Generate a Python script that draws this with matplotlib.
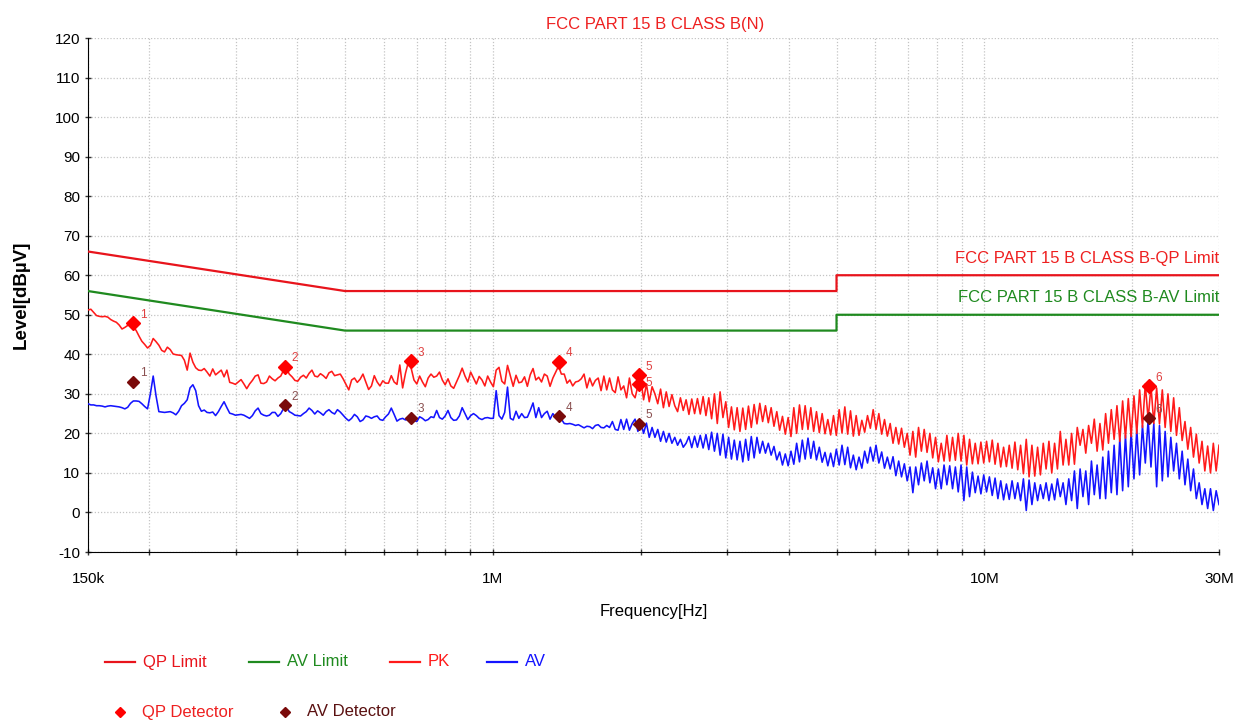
import numpy as np
import matplotlib
matplotlib.use("Agg")
import matplotlib.pyplot as plt
from matplotlib.lines import Line2D
from matplotlib.ticker import FixedLocator, FixedFormatter, NullFormatter

plt.rcParams['font.family'] = ['Liberation Sans', 'DejaVu Sans']
plt.rcParams['axes.unicode_minus'] = False

TITLE = "FCC PART 15 B CLASS B(N)"
F_START, F_STOP = 150e3, 30e6

# Limit lines (frequency Hz, level dBuV)
LIMIT_F = [150e3, 500e3, 5e6, 5e6, 30e6]
QP_LIMIT = [66, 56, 56, 60, 60]
AV_LIMIT = [56, 46, 46, 50, 50]

# Peak trace levels (dBuV), sweep points log-spaced from 150 kHz to 30 MHz
PK_LEVEL = [
    51.2, 51.4, 50.6, 49.8, 49.6, 49.5, 49.6, 49.4, 48.8, 48.4,
    48.1, 47.4, 46.4, 46.8, 47.3, 47.8, 47.0, 46.0, 44.6, 43.3,
    42.5, 41.6, 42.2, 44.0, 43.2, 42.3, 41.0, 40.6, 41.8, 41.2,
    40.1, 39.9, 39.8, 39.7, 38.5, 36.0, 40.3, 38.0, 36.6, 36.0,
    35.9, 36.4, 35.5, 34.5, 36.3, 34.8, 35.4, 36.0, 34.3, 36.0,
    32.9, 32.7, 32.4, 33.0, 33.6, 32.5, 31.3, 32.5, 33.4, 34.5,
    34.8, 32.7, 32.6, 33.0, 34.5, 33.8, 33.3, 34.0, 34.5, 36.0,
    36.5, 35.0, 34.3, 33.4, 33.2, 34.2, 34.7, 34.0, 35.2, 36.0,
    34.5, 34.3, 35.1, 34.6, 33.9, 35.3, 35.7, 34.6, 34.8, 35.0,
    33.8, 32.4, 31.0, 33.5, 34.0, 32.9, 33.7, 35.0, 33.0, 31.1,
    32.0, 34.6, 33.0, 32.0, 33.3, 32.7, 32.7, 34.6, 33.0, 32.4,
    37.3, 31.5, 35.2, 38.0, 36.5, 33.5, 32.5, 34.5, 33.0, 31.8,
    34.0, 35.0, 34.2, 34.5, 35.5, 33.5, 32.3, 33.8, 32.0, 31.4,
    33.0, 34.6, 36.5, 34.5, 33.0, 35.5, 34.0, 32.5, 34.4, 33.5,
    32.0, 34.5, 33.0, 31.8, 36.0, 36.7, 33.2, 32.5, 37.2, 34.5,
    31.9, 34.7, 32.8, 33.0, 34.3, 31.9, 34.8, 36.4, 33.5, 34.2,
    33.0, 35.0, 34.5, 31.9, 34.0, 35.5, 37.0, 35.0, 35.0, 32.7,
    33.5, 32.0, 33.0, 33.2, 33.8, 35.0, 31.5, 34.0, 32.0, 33.4,
    34.0, 30.8, 34.5, 31.0, 34.0, 31.0, 30.3, 34.3, 31.0, 32.0,
    29.0, 34.0, 30.0, 29.0, 32.0, 34.0, 28.5, 32.5, 28.0, 31.8,
    30.0, 27.5, 31.2, 26.5, 30.5, 26.8, 29.8, 27.0, 25.5, 29.0,
    25.8, 28.5, 24.8, 28.7, 25.0, 28.8, 24.9, 29.3, 24.5, 29.0,
    23.7, 30.0, 22.5, 30.5, 24.0, 28.0, 21.5, 26.7, 20.9, 26.5,
    20.5, 26.4, 21.0, 26.9, 21.5, 27.3, 22.4, 27.6, 23.0, 27.0,
    22.7, 26.5, 21.8, 25.5, 20.8, 24.3, 19.8, 24.0, 19.2, 26.5,
    20.0, 27.2, 21.0, 27.0, 21.0, 26.5, 20.5, 25.5, 20.2, 25.0,
    19.9, 23.5, 19.6, 24.5, 19.5, 26.0, 20.1, 26.7, 19.8, 25.7,
    19.3, 24.5, 19.5, 23.3, 20.3, 24.5, 21.3, 26.0, 21.0, 25.0,
    19.8, 23.5, 19.3, 22.5, 17.5, 21.5, 17.3, 21.3, 16.5, 20.0,
    14.5, 20.5, 14.0, 21.5, 15.5, 21.0, 15.2, 20.0, 13.8, 19.0,
    12.8, 17.5, 13.0, 19.5, 13.0, 19.0, 13.2, 20.0, 13.0, 19.5,
    12.0, 18.5, 12.3, 17.5, 12.3, 17.8, 12.5, 18.0, 12.8, 18.3,
    12.2, 17.5, 11.5, 16.5, 11.6, 17.0, 11.2, 17.8, 10.8, 17.0,
    9.8, 18.5, 9.0, 17.0, 9.2, 16.5, 9.5, 17.5, 11.0, 18.0,
    10.0, 17.5, 11.0, 20.5, 12.0, 18.5, 12.0, 20.0, 12.2, 21.5,
    17.0, 21.0, 15.0, 22.0, 17.5, 23.6, 15.5, 22.5, 15.8, 25.0,
    17.5, 26.0, 18.5, 27.0, 18.0, 28.2, 18.8, 28.8, 19.2, 29.5,
    20.0, 31.0, 21.5, 32.5, 23.5, 32.0, 22.5, 31.5, 22.4, 31.0,
    21.5, 30.0, 20.5, 29.0, 19.5, 26.5, 18.2, 23.0, 16.0, 21.5,
    14.0, 19.8, 12.5, 18.0, 10.5, 16.8, 10.0, 17.5, 10.5, 17.0,
]

# Average trace levels (dBuV), same sweep
AV_LEVEL = [
    27.5, 27.2, 27.2, 27.0, 27.0, 26.9, 26.7, 26.9, 27.0, 26.9,
    26.8, 26.7, 26.5, 26.2, 26.6, 27.6, 28.2, 28.2, 28.1, 27.5,
    26.8, 26.2, 30.0, 34.5, 29.5, 25.5, 25.4, 25.3, 25.4, 25.5,
    25.2, 24.7, 25.6, 27.0, 27.6, 28.5, 31.5, 32.3, 30.8, 27.0,
    25.6, 25.9, 25.3, 25.2, 25.4, 24.5, 25.5, 26.8, 28.0, 26.5,
    25.1, 24.9, 24.6, 24.7, 24.8, 24.6, 24.2, 23.8, 24.5, 25.7,
    26.4, 25.0, 24.6, 24.4, 24.6, 25.3, 25.3, 24.3, 25.0, 26.3,
    26.8, 25.5, 25.1, 24.6, 24.5, 24.4, 25.0, 25.5, 26.4, 25.8,
    24.9, 25.7, 25.2, 24.6, 25.5, 26.0, 25.3, 24.9, 26.0, 25.4,
    24.6, 23.8, 23.2, 23.8, 24.8, 24.2, 23.0, 23.4, 24.4, 24.2,
    23.8, 24.2, 24.4, 23.5, 23.3, 24.2, 24.9, 26.4, 24.8, 23.1,
    23.6, 23.8, 23.4, 23.6, 23.5, 23.3, 23.0, 24.2, 23.8, 23.2,
    23.5, 24.2, 24.0, 25.8, 24.0, 23.6, 24.4, 25.8, 24.0, 23.3,
    23.4, 24.4, 26.5, 25.0, 23.5, 24.5, 25.0, 24.5, 23.8, 23.5,
    23.9, 24.0, 23.8, 23.8, 30.8, 24.5, 23.6, 25.3, 31.7, 23.8,
    23.4, 25.6, 23.8, 25.0, 24.0, 24.1, 25.8, 27.7, 24.0, 26.5,
    24.0, 25.0, 25.6, 23.6, 25.0, 24.0, 24.0, 23.6, 22.5, 22.4,
    22.5, 22.3, 22.0, 22.2, 21.8, 21.4, 21.8, 21.7, 21.2, 22.0,
    22.2, 21.5, 21.4, 22.0, 21.5, 23.0, 21.0, 20.8, 23.5, 21.0,
    23.6, 20.8, 22.5, 23.6, 20.5, 23.0, 20.0, 22.6, 19.0, 21.5,
    19.0, 21.0, 18.0, 20.5, 17.8, 20.0, 17.5, 19.0, 17.0, 18.5,
    16.5, 17.5, 19.2, 16.4, 19.3, 16.5, 19.5, 16.3, 19.7, 15.9,
    20.3, 15.5, 20.0, 14.5, 19.8, 13.8, 19.0, 13.5, 18.3, 13.3,
    18.0, 12.8, 18.5, 13.2, 19.2, 13.8, 19.0, 15.0, 18.0, 15.0,
    17.5, 14.5, 16.7, 13.3, 15.3, 12.0, 14.8, 11.8, 15.5, 12.2,
    17.5, 12.8, 18.3, 13.5, 18.8, 13.7, 18.0, 13.3, 16.5, 12.7,
    15.2, 11.8, 15.0, 11.6, 16.0, 12.0, 17.0, 12.1, 16.5, 11.3,
    14.5, 10.8, 14.0, 11.2, 15.5, 12.5, 16.5, 13.0, 17.0, 12.5,
    15.3, 11.2, 14.0, 11.0, 14.1, 9.3, 13.0, 9.0, 12.3, 8.0,
    11.5, 5.0, 11.5, 7.0, 12.5, 8.0, 13.0, 7.5, 11.3, 6.0,
    11.0, 6.0, 12.0, 7.0, 11.8, 6.0, 11.5, 5.2, 12.0, 3.0,
    11.5, 4.0, 10.2, 5.0, 9.2, 4.7, 9.5, 5.2, 9.0, 4.3,
    8.7, 3.5, 8.0, 3.2, 7.2, 3.3, 8.0, 3.5, 7.5, 3.0,
    8.5, 0.5, 8.2, 2.0, 7.5, 3.0, 7.0, 3.5, 7.5, 3.0,
    7.2, 3.2, 8.5, 4.0, 7.5, 2.0, 8.5, 3.0, 10.5, 1.0,
    11.0, 4.0, 10.5, 2.0, 13.0, 4.5, 12.0, 3.5, 14.0, 3.5,
    15.5, 5.0, 17.0, 4.5, 18.7, 5.5, 19.5, 6.5, 20.5, 8.5,
    21.0, 9.5, 22.0, 12.5, 23.5, 11.5, 22.5, 6.5, 22.0, 8.0,
    20.5, 9.0, 19.0, 10.5, 17.5, 8.5, 15.5, 7.0, 13.5, 5.5,
    11.0, 3.5, 7.5, 2.0, 6.0, 1.0, 6.0, 0.5, 5.5, 2.0,
]

# Final measurement points
QP_F = [185e3, 377e3, 680e3, 1.362e6, 1.98e6, 1.98e6, 21.6e6]
QP_L = [47.8, 36.8, 38.2, 38.1, 34.7, 32.6, 31.9]
QP_ID = ["1", "2", "3", "4", "5", "5", "6"]
AVD_F = [185e3, 377e3, 680e3, 1.362e6, 1.98e6, 21.6e6]
AVD_L = [33.0, 27.1, 23.9, 24.3, 22.5, 23.8]
AVD_ID = ["1", "2", "3", "4", "5", "6"]

X_MAJOR = [150e3, 1e6, 10e6, 30e6]
X_MAJOR_LABELS = ["150k", "1M", "10M", "30M"]
X_MINOR = [200e3, 300e3, 400e3, 500e3, 600e3, 700e3, 800e3, 900e3,
           2e6, 3e6, 4e6, 5e6, 6e6, 7e6, 8e6, 9e6, 20e6]
Y_TICKS = list(range(-10, 121, 10))

RED = "#ff1a1a"
LIM_RED = "#e8141c"
GREEN = "#1f8a1f"
BLUE = "#1414ff"
DARKRED = "#7a0a0a"

W, H = 1239, 720
fig = plt.figure(figsize=(W / 100, H / 100), dpi=100)
ax = fig.add_axes([88 / W, 1 - 552 / H, (1219 - 88) / W, (552 - 38) / H])

pk_f = np.geomspace(F_START, F_STOP, len(PK_LEVEL))
av_f = np.geomspace(F_START, F_STOP, len(AV_LEVEL))

ax.plot(LIMIT_F, QP_LIMIT, color=LIM_RED, lw=1.6, zorder=3)
ax.plot(LIMIT_F, AV_LIMIT, color=GREEN, lw=1.6, zorder=3)
ax.plot(av_f, AV_LEVEL, color=BLUE, lw=1.15, zorder=4)
ax.plot(pk_f, PK_LEVEL, color=RED, lw=1.15, zorder=5)

ax.plot(QP_F, QP_L, linestyle="none", marker="D", ms=7, color="#ff0000", zorder=7)
ax.plot(AVD_F, AVD_L, linestyle="none", marker="D", ms=6.5, color=DARKRED, zorder=7)
prev = None
for f, l, s in zip(QP_F, QP_L, QP_ID):
    dy = -2 if s == prev else 4
    ax.annotate(s, (f, l), xytext=(5, dy), textcoords="offset points",
                fontsize=8.5, color="#e04040", zorder=8)
    prev = s
for f, l, s in zip(AVD_F, AVD_L, AVD_ID):
    ax.annotate(s, (f, l), xytext=(5, 4), textcoords="offset points",
                fontsize=8.5, color="#8a5050", zorder=8)

ax.set_xscale("log")
ax.set_xlim(F_START, F_STOP)
ax.set_ylim(-10, 120)
ax.xaxis.set_major_locator(FixedLocator(X_MAJOR))
ax.xaxis.set_major_formatter(FixedFormatter(X_MAJOR_LABELS))
ax.xaxis.set_minor_locator(FixedLocator(X_MINOR))
ax.xaxis.set_minor_formatter(NullFormatter())
ax.set_yticks(Y_TICKS)

ax.grid(True, which="both", axis="x", color="#c4c4c4", ls=(0, (1, 1.5)), lw=0.9)
ax.grid(True, which="major", axis="y", color="#c4c4c4", ls=(0, (1, 1.5)), lw=0.9)
for side in ("top", "right"):
    ax.spines[side].set_visible(False)
ax.spines["left"].set_color("black")
ax.spines["bottom"].set_color("black")
ax.tick_params(axis="both", which="both", direction="inout", length=5, width=1,
               color="#333333", labelsize=11)
ax.tick_params(axis="x", which="major", pad=12)
ax.tick_params(axis="y", pad=3)

ax.set_xlabel("Frequency[Hz]", fontsize=12, labelpad=13)
ax.set_ylabel("Level[dBµV]", fontsize=13.5, fontweight="bold", labelpad=18)

fig.text(655 / W, 1 - 24 / H, TITLE, color="#ee2020", fontsize=12,
         ha="center", va="center")
fig.text(1219 / W, 1 - 258 / H, "FCC PART 15 B CLASS B-QP Limit", color="#ee2020",
         fontsize=12, ha="right", va="center")
fig.text(1219 / W, 1 - 298 / H, "FCC PART 15 B CLASS B-AV Limit", color=GREEN,
         fontsize=12, ha="right", va="center")

# Legend (figure-pixel placement)
def px(x, y):
    return x / W, 1 - y / H

legend_rows = [
    (105, 662, "QP Limit", LIM_RED),
    (249, 662, "AV Limit", GREEN),
    (390, 662, "PK", RED),
    (487, 662, "AV", BLUE),
]
for x0, y0, label, col in legend_rows:
    (xa, ya), (xb, _) = px(x0, y0), px(x0 + 30, y0)
    fig.add_artist(Line2D([xa, xb], [ya, ya], color=col, lw=1.6,
                          transform=fig.transFigure))
    fig.text(*px(x0 + 38, y0), label, color=col, fontsize=12, va="center")

for x0, y0, label, col, tcol in [(120, 712, "QP Detector", "#ff0000", "#ee2020"),
                                 (285, 712, "AV Detector", DARKRED, "#5a1010")]:
    fig.add_artist(Line2D([x0 / W], [1 - y0 / H], marker="D", ms=5, color=col,
                          linestyle="none", transform=fig.transFigure))
    fig.text(*px(x0 + 22, y0), label, color=tcol, fontsize=12, va="center")

fig.savefig("out.png", dpi=100)
